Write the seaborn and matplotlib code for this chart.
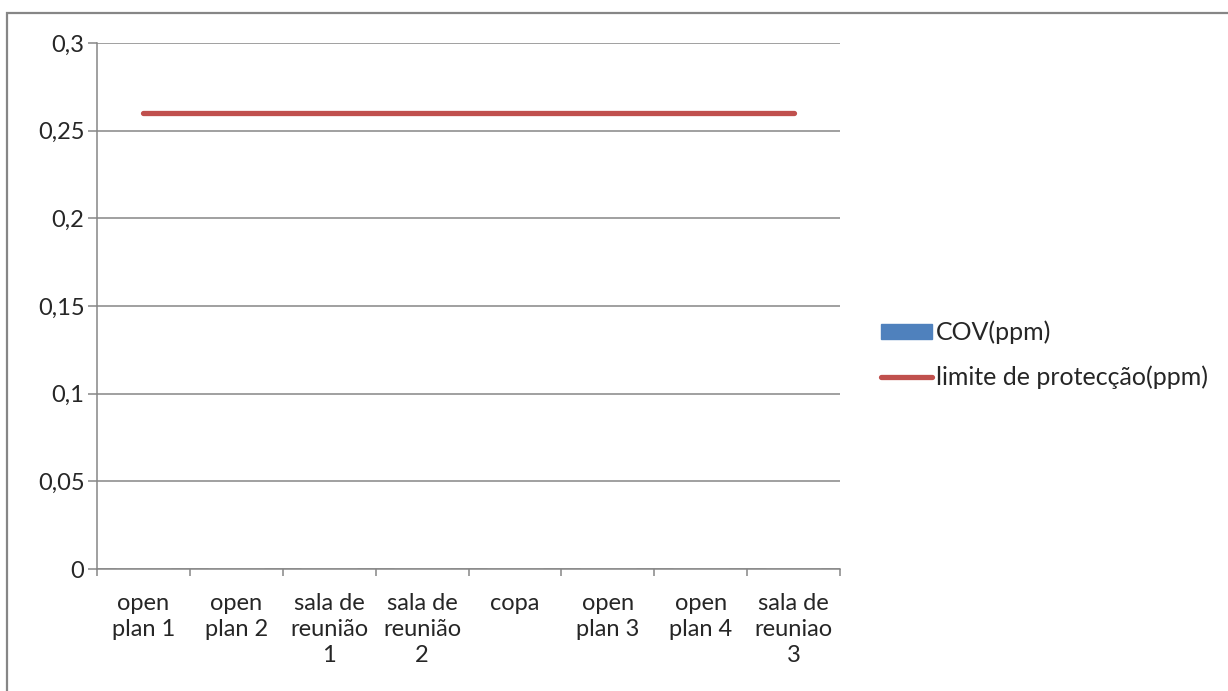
import numpy as np
import pandas as pd
import matplotlib
matplotlib.use("Agg")
import matplotlib.pyplot as plt
from matplotlib.patches import Rectangle, Patch
from matplotlib.lines import Line2D
from matplotlib.ticker import FuncFormatter, MultipleLocator
import seaborn as sns

# Rooms measured
categories = ["open\nplan 1", "open\nplan 2", "sala de\nreunião\n1", "sala de\nreunião\n2",
              "copa", "open\nplan 3", "open\nplan 4", "sala de\nreuniao\n3"]
# Measured VOC concentration (ppm)
cov_ppm = [0, 0, 0, 0, 0, 0, 0, 0]
# Protection limit (ppm)
limite_ppm = [0.26, 0.26, 0.26, 0.26, 0.26, 0.26, 0.26, 0.26]

sns.set_style("white")
plt.rcParams["font.family"] = ["Lato", "DejaVu Sans"]

GRID = "#868686"
BLUE = "#4F81BD"
RED = "#C0504D"
FS = 17

fig = plt.figure(figsize=(12.28, 6.91), dpi=100)
ax = fig.add_axes([97 / 1228, 1 - 569 / 691, (840 - 97) / 1228, (569 - 43) / 691])

df = pd.DataFrame({"local": categories, "cov": cov_ppm})
sns.barplot(data=df, x="local", y="cov", color=BLUE, ax=ax, width=0.6, saturation=1)
sns.lineplot(x=np.arange(len(categories)), y=limite_ppm, color=RED, lw=3.8, ax=ax,
             solid_capstyle="round")

ax.set_xlim(-0.5, len(categories) - 0.5)
ax.set_ylim(0, 0.3)
ax.yaxis.set_major_locator(MultipleLocator(0.05))
ax.yaxis.set_major_formatter(FuncFormatter(
    lambda v, p: "0" if abs(v) < 1e-9 else f"{v:.2f}".rstrip("0").replace(".", ",")))
ax.yaxis.grid(True, color=GRID, lw=1.1)
ax.set_axisbelow(True)

ax.set_xticks(np.arange(len(categories)))
ax.set_xticklabels(categories, fontsize=FS, linespacing=1.32, va="top", ha="center")
ax.tick_params(axis="x", which="major", bottom=False, length=0, pad=17)
ax.set_xticks(np.arange(len(categories) + 1) - 0.5, minor=True)
ax.tick_params(axis="x", which="minor", bottom=True, length=5, width=1.1,
               color=GRID, direction="out")
ax.tick_params(axis="y", left=True, length=6.5, width=1.1, color=GRID,
               direction="out", labelsize=FS, pad=2.5)
ax.set_xlabel("")
ax.set_ylabel("")

for s in ["top", "right"]:
    ax.spines[s].set_visible(False)
for s in ["left", "bottom"]:
    ax.spines[s].set_color(GRID)
    ax.spines[s].set_linewidth(1.1)

handles = [Patch(facecolor=BLUE, edgecolor=BLUE),
           Line2D([0], [0], color=RED, lw=3.8, solid_capstyle="round")]
fig.legend(handles, ["COV(ppm)", "limite de protecção(ppm)"],
           loc="center left", bbox_to_anchor=(881 / 1228, 1 - 355 / 691),
           frameon=False, fontsize=18, handlelength=2.05, handleheight=0.52,
           handletextpad=0.15, labelspacing=0.85, borderaxespad=0, borderpad=0)

fig.patches.append(Rectangle((7 / 1228, -0.1), 1.2, 1 - 13 / 691 + 0.1,
                             transform=fig.transFigure, fill=False,
                             edgecolor=GRID, lw=1.6, zorder=-1))

fig.savefig("out.png", dpi=100, facecolor="white")
